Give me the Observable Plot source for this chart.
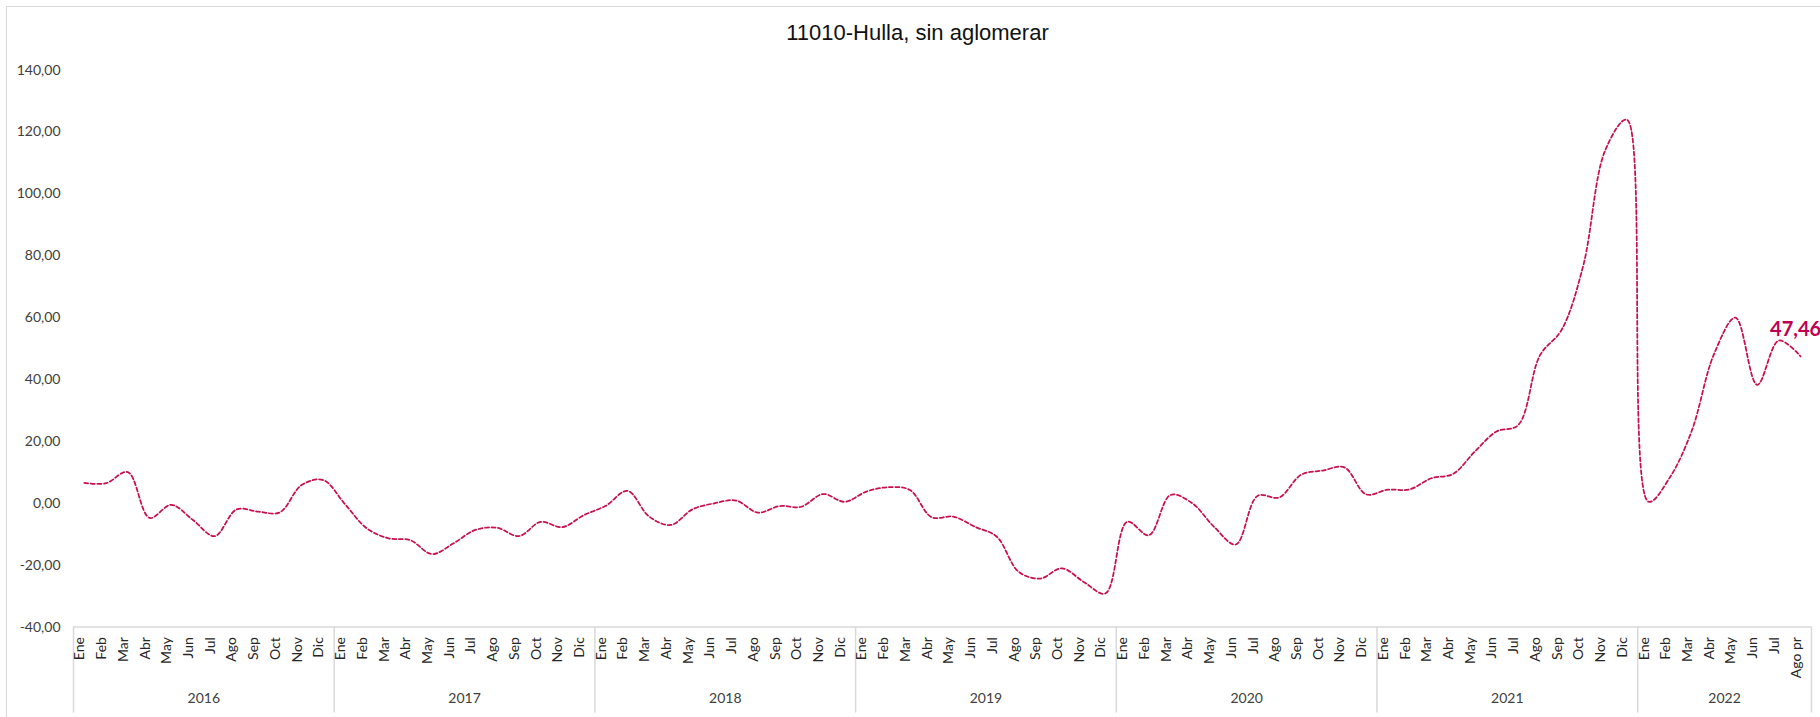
<!DOCTYPE html>
<html><head><meta charset="utf-8">
<script src="https://cdn.jsdelivr.net/npm/d3@7"></script>
<script src="https://cdn.jsdelivr.net/npm/@observablehq/plot@0.6"></script>
<style>
body{margin:0;background:#fff;}
#wrap{position:relative;width:1820px;height:717px;overflow:hidden;background:#fff;}
#frameTop{position:absolute;left:6px;top:6px;width:1840px;height:0;border-top:1.5px solid #d9d9d9;}
#frameLeft{position:absolute;left:6px;top:6px;width:0;height:730px;border-left:1.5px solid #d9d9d9;}
#title{height:50px;box-sizing:border-box;padding-top:21px;padding-left:15px;text-align:center;font-family:"Liberation Sans",Arial,sans-serif;font-size:22px;line-height:24px;color:#111;}
#chart svg{display:block;}
</style></head>
<body>
<div id="wrap">
  <div id="title">11010-Hulla, sin aglomerar</div>
  <div id="chart"></div>
  <div id="frameTop"></div>
  <div id="frameLeft"></div>
</div>
<script>
// ---- data ----
const years = ["2016", "2017", "2018", "2019", "2020", "2021", "2022"];
const monthNames = ["Ene", "Feb", "Mar", "Abr", "May", "Jun", "Jul", "Ago", "Sep", "Oct", "Nov", "Dic"];
const months2022 = ["Ene", "Feb", "Mar", "Abr", "May", "Jun", "Jul", "Ago pr"];
const v2016 = [6.6, 6.5, 10.1, -4.7, -0.5, -5.4, -10.6, -2.0, -2.7, -2.9, 5.9, 7.5];
const v2017 = [-0.3, -8.1, -11.3, -11.9, -16.4, -12.9, -8.6, -7.9, -10.6, -6.0, -7.7, -3.8];
const v2018 = [-0.8, 4.0, -4.3, -7.0, -1.9, 0.0, 0.9, -3.0, -0.9, -1.1, 3.0, 0.5];
const v2019 = [3.8, 5.2, 4.3, -4.5, -4.3, -7.6, -10.8, -22.1, -24.3, -21.0, -25.4, -29.1];
const v2020 = [-6.0, -10.3, 2.7, 0.0, -7.6, -13.3, 2.4, 1.9, 9.2, 10.6, 11.6, 2.9];
const v2021 = [4.4, 4.5, 8.1, 9.5, 16.7, 23.2, 25.3, 47.8, 56.1, 77.0, 114.0, 124.0];
const v2022 = [0.5, 8.6, 23.7, 48.0, 60.0, 38.3, 52.6, 47.46];
const lastValueLabel = "47,46";
const yTicks = [-40, -20, 0, 20, 40, 60, 80, 100, 120, 140];

const lineColor = "#c8104f";
const labelColor = "#bf0050";

// ---- build table ----
const seriesByYear = [v2016, v2017, v2018, v2019, v2020, v2021, v2022];
const rows = [];
const yearSpans = [];
const boundaries = [0];
seriesByYear.forEach((vals, k) => {
  const names = years[k] === "2022" ? months2022 : monthNames;
  const start = rows.length;
  vals.forEach((v, j) => rows.push({i: rows.length, year: years[k], month: names[j], value: v}));
  boundaries.push(rows.length);
  yearSpans.push({year: years[k], mid: (start + rows.length) / 2});
});
const n = rows.length;
const last = rows[n - 1];

const fmt = d => d.toFixed(2).replace(".", ",");

const chart = Plot.plot({
  width: 1820,
  height: 667,
  marginLeft: 73,
  marginRight: 9,
  marginTop: 19.6,
  marginBottom: 90.4,
  style: {fontFamily: "Lato, 'Open Sans', sans-serif", fontSize: "14px", background: "#fff", color: "#404040"},
  x: {type: "linear", domain: [0, n]},
  y: {domain: [-40, 140]},
  marks: [
    Plot.axisY({ticks: yTicks, tickSize: 0, tickPadding: 13, tickFormat: fmt, label: null, fontSize: 14, fill: "#404040"}),
    Plot.axisX({ticks: boundaries, tickSize: 86, tickFormat: () => "", label: null, stroke: "#d9d9d9", strokeWidth: 1.5}),
    Plot.ruleY([-40], {stroke: "#d9d9d9", strokeWidth: 1.5}),
    Plot.line(rows, {x: d => d.i + 0.5, y: "value", stroke: lineColor, strokeWidth: 1.75, strokeDasharray: "4,2.5", curve: "catmull-rom"}),
    Plot.text(rows, {x: d => d.i + 0.5, frameAnchor: "bottom", dy: 10, rotate: -90, textAnchor: "end", text: "month", fontSize: 14, fill: "#262626"}),
    Plot.text(yearSpans, {x: "mid", frameAnchor: "bottom", dy: 75.5, text: "year", fontSize: 14, fill: "#404040"}),
    Plot.text([last], {x: d => d.i + 0.5, y: "value", text: () => lastValueLabel, dx: -5, dy: -27, fontSize: 20, fontWeight: "bold", fill: labelColor})
  ]
});
document.getElementById("chart").appendChild(chart);
</script>
</body></html>
